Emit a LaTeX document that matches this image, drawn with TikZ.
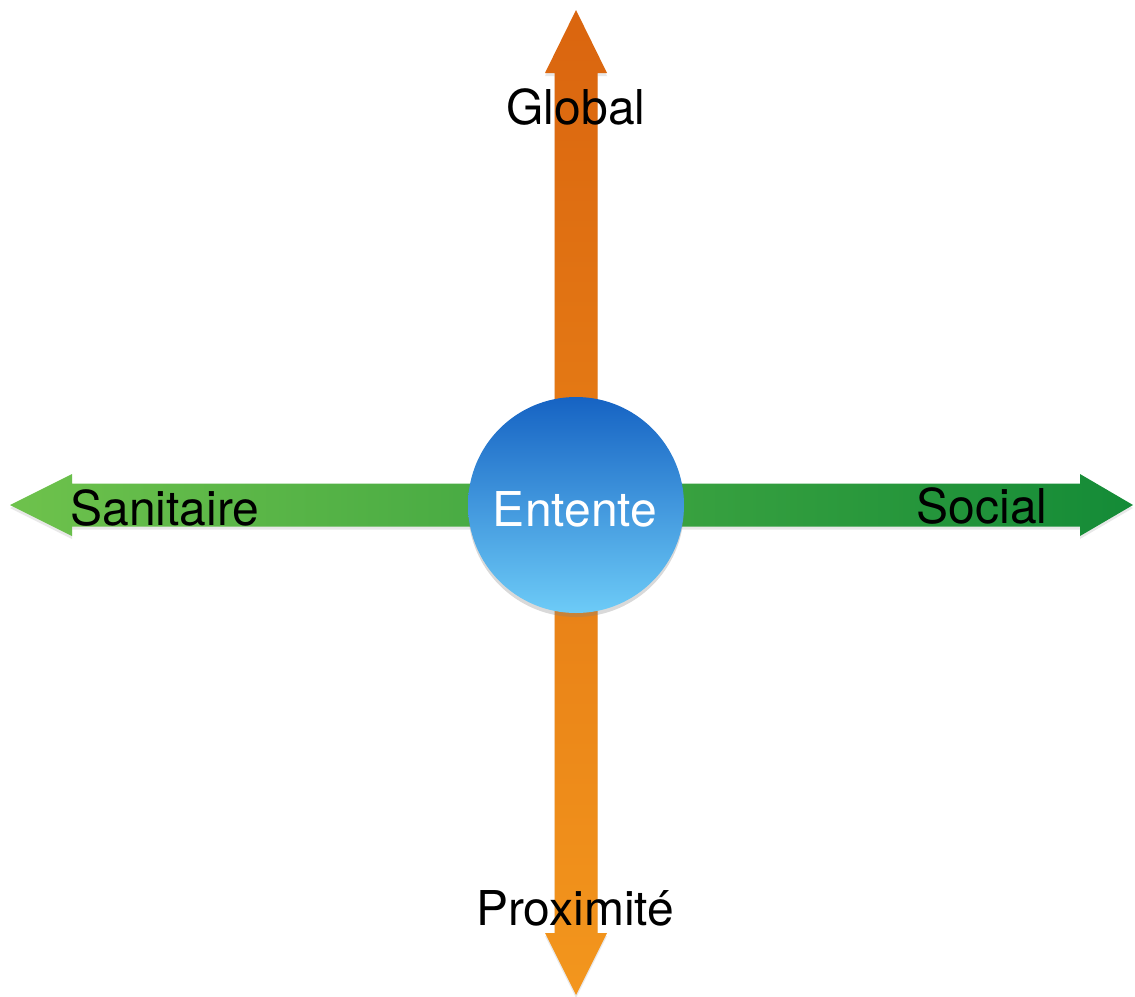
\documentclass[tikz,border=0pt]{standalone}
\usepackage{fontspec}
\setmainfont{TeX Gyre Heros}
\usetikzlibrary{shadows,calc}
\definecolor{orangetop}{HTML}{DA650F}
\definecolor{orangebot}{HTML}{F3961D}
\definecolor{greenleft}{HTML}{6EC24C}
\definecolor{greenright}{HTML}{148B37}
\definecolor{bluetop}{HTML}{1663C3}
\definecolor{bluebot}{HTML}{6DCBF7}
\begin{document}
\begin{tikzpicture}[x=1pt,y=-1pt,
	lbl/.style={anchor=base,font=\fontsize{48}{52}\selectfont,inner sep=0pt},
	axshadow/.style={drop shadow={opacity=0.18,shadow xshift=0pt,shadow yshift=-3pt}}]
	\useasboundingbox (0,0) rectangle (1135,996);
	% centre and arrow tips
	\coordinate (o) at (576,505);
	\coordinate (top) at (576,10);
	\coordinate (bot) at (576,995);
	\coordinate (lft) at (10,505);
	\coordinate (rgt) at (1133,505);
	% vertical axis
	\shade[top color=orangetop,bottom color=orangebot,axshadow]
	(top) -- ++(31,63) -- ++(-9.5,0) -- ($(bot)+(21.5,-62)$) -- ++(9.5,0) -- (bot)
	-- ++(-31,-62) -- ++(9.5,0) -- ($(top)+(-21.5,63)$) -- ++(-9.5,0) -- cycle;
	% horizontal axis
	\shade[left color=greenleft,right color=greenright,axshadow]
	(lft) -- ++(62,-31) -- ++(0,9.5) -- ($(rgt)+(-53,-21.5)$) -- ++(0,-9.5) -- (rgt)
	-- ++(-53,31) -- ++(0,-9.5) -- ($(lft)+(62,21.5)$) -- ++(0,9.5) -- cycle;
	% centre
	\node[circle,minimum size=216pt,top color=bluetop,bottom color=bluebot,
		drop shadow={opacity=0.3,shadow xshift=0pt,shadow yshift=-4pt}] (c) at (o) {};
	\node[lbl,text=white] (e) at (575,526) {Entente};
	\node[lbl] (g) at (576,124) {Global};
	\node[lbl] (p) at (575,925) {Proximité};
	\node[lbl] (s) at (165,525) {Sanitaire};
	\node[lbl] (so) at (982,523) {Social};
\end{tikzpicture}
\end{document}
